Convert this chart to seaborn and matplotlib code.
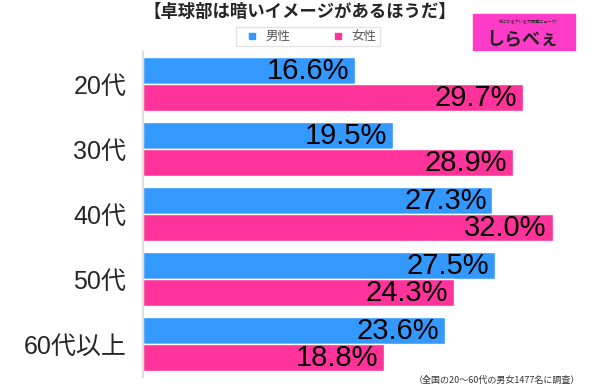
import pandas as pd
import numpy as np
import seaborn as sns
import matplotlib.pyplot as plt
from matplotlib.patches import Rectangle
from matplotlib.lines import Line2D

# データ
ages = ['20代', '30代', '40代', '50代', '60代以上']
male = [16.6, 19.5, 27.3, 27.5, 23.6]
female = [29.7, 28.9, 32.0, 24.3, 18.8]
series = ['男性', '女性']
colors = ['#3399ff', '#ff3399']

df = pd.DataFrame({
    'age': ages * 2,
    'value': male + female,
    'sex': [series[0]] * len(ages) + [series[1]] * len(ages),
})

sns.set_style('white')
plt.rcParams['font.family'] = ['Liberation Sans', 'Noto Sans CJK JP', 'DejaVu Sans']
cjk = ['Noto Sans CJK JP', 'DejaVu Sans']

fig = plt.figure(figsize=(6, 3.87), dpi=100)
ax = fig.add_axes([0.238, 0.026, 0.747, 0.84])

sns.barplot(data=df, y='age', x='value', hue='sex', order=ages, hue_order=series,
            palette=colors, width=0.83, ax=ax, legend=False, saturation=1)

ax.set_xlim(0, 35)
ax.set_ylim(4.5, -0.5)
ax.set_xlabel('')
ax.set_ylabel('')
ax.set_xticks([])
for s in ['top', 'right', 'bottom']:
    ax.spines[s].set_visible(False)
ax.spines['left'].set_color('#dddddd')
ax.spines['left'].set_linewidth(1.5)
ax.tick_params(axis='y', length=0, labelsize=18, pad=12)

# 値ラベル（バー内側右寄せ）
for cont in ax.containers:
    for p, v in zip(cont.patches, cont.datavalues):
        ax.text(p.get_width() - 0.45, p.get_y() + p.get_height() / 2, f'{v:.1f}%',
                ha='right', va='center', fontsize=21, color='black')

# タイトル・凡例
fig.text(0.5, 0.968, '【卓球部は暗いイメージがあるほうだ】', ha='center', va='center',
         fontsize=12.5, fontweight='bold', family=cjk)
handles = [Line2D([], [], marker='s', linestyle='', color=c, markersize=5) for c in colors]
leg = fig.legend(handles, series, loc='center', bbox_to_anchor=(0.513, 0.905), ncol=2,
                 frameon=True, fontsize=9, handletextpad=0.1, columnspacing=2.8,
                 borderpad=0.25, fancybox=False, edgecolor='#dddddd', labelcolor='#555555')
for t in leg.get_texts():
    t.set_family(cjk)

# ロゴ
fig.patches.append(Rectangle((473 / 600, 1 - 50 / 387), 102 / 600, 36 / 387,
                             transform=fig.transFigure, color='#ff3cc8', zorder=5))
fig.text(0.87, 0.9, 'しらべぇ', ha='center', va='center', fontsize=13,
         fontweight='bold', color='#222222', zorder=6, family=cjk)
fig.text(0.88, 0.945, '気になるアレを大調査ニュース!', ha='center', va='center', fontsize=3,
         color='#222222', zorder=6, family=cjk)

fig.text(0.967, 0.016, '（全国の20～60代の男女1477名に調査）', ha='right', va='center',
         fontsize=6.5, color='#333333', family=cjk)

fig.savefig('out.png', dpi=100)
